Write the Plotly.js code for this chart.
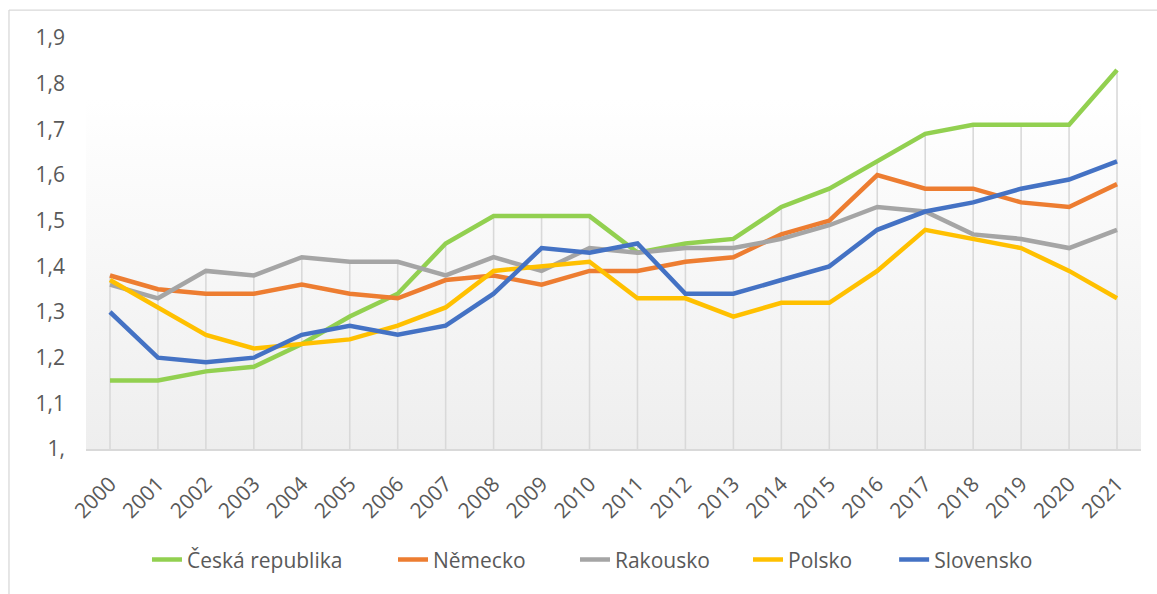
<!DOCTYPE html>
<html>
<head>
<meta charset="utf-8">
<script src="https://cdn.plot.ly/plotly-3.0.1.min.js"></script>
<style>html,body{margin:0;padding:0;background:#fff;}#chart{width:1157px;height:594px;}</style>
</head>
<body>
<div id="chart"></div>
<script>
const years = ["2000","2001","2002","2003","2004","2005","2006","2007","2008","2009","2010","2011","2012","2013","2014","2015","2016","2017","2018","2019","2020","2021"];
const cesko = [1.15,1.15,1.17,1.18,1.23,1.29,1.34,1.45,1.51,1.51,1.51,1.43,1.45,1.46,1.53,1.57,1.63,1.69,1.71,1.71,1.71,1.83];
const nemecko = [1.38,1.35,1.34,1.34,1.36,1.34,1.33,1.37,1.38,1.36,1.39,1.39,1.41,1.42,1.47,1.50,1.60,1.57,1.57,1.54,1.53,1.58];
const rakousko = [1.36,1.33,1.39,1.38,1.42,1.41,1.41,1.38,1.42,1.39,1.44,1.43,1.44,1.44,1.46,1.49,1.53,1.52,1.47,1.46,1.44,1.48];
const polsko = [1.37,1.31,1.25,1.22,1.23,1.24,1.27,1.31,1.39,1.40,1.41,1.33,1.33,1.29,1.32,1.32,1.39,1.48,1.46,1.44,1.39,1.33];
const slovensko = [1.30,1.20,1.19,1.20,1.25,1.27,1.25,1.27,1.34,1.44,1.43,1.45,1.34,1.34,1.37,1.40,1.48,1.52,1.54,1.57,1.59,1.63];
const seriesNames = ["Česká republika","Německo","Rakousko","Polsko","Slovensko"];
const yTickVals = [1.0,1.1,1.2,1.3,1.4,1.5,1.6,1.7,1.8,1.9];
const yTickText = ["1,","1,1","1,2","1,3","1,4","1,5","1,6","1,7","1,8","1,9"];

const allSeries = [cesko, nemecko, rakousko, polsko, slovensko];
const colors = ["#92D050","#ED7D31","#A5A5A5","#FFC000","#4472C4"];
const legendX = [0.0578, 0.291, 0.4635, 0.6275, 0.766];
const axisMin = 1.0;

// drop lines from highest value down to axis
const dx = [], dy = [];
years.forEach((yr, i) => {
  const m = Math.max(...allSeries.map(s => s[i]));
  dx.push(yr, yr, null);
  dy.push(axisMin, m, null);
});

const font = {family: "'Open Sans', sans-serif", size: 21, color: '#595959'};
const tickFont = {family: "'Open Sans', sans-serif", size: 21, color: '#595959'};

const traces = [{
  x: dx, y: dy, mode: 'lines', type: 'scatter',
  line: {color: '#d9d9d9', width: 1.6},
  showlegend: false, hoverinfo: 'skip'
}];

const layout = {
  width: 1157, height: 594,
  margin: {l: 86, r: 16, t: 38, b: 145},
  paper_bgcolor: '#ffffff',
  plot_bgcolor: 'rgba(0,0,0,0)',
  font: font,
  showlegend: true,
  xaxis: {
    type: 'category', range: [-0.5, 21.5],
    showgrid: false, zeroline: false,
    showline: true, linecolor: '#d9d9d9', linewidth: 1.5,
    ticks: '', tickangle: -45, tickfont: tickFont,
    ticklabelstandoff: 13, automargin: false, fixedrange: true
  },
  yaxis: {
    range: [1.0, 1.9], tickvals: yTickVals, ticktext: yTickText,
    showgrid: false, zeroline: false, showline: false, ticks: '',
    tickfont: font, ticklabelstandoff: 20, automargin: false, fixedrange: true
  },
  images: [],
  shapes: [
    {type: 'line', xref: 'paper', yref: 'paper', x0: -0.073, x1: 1.02, y0: 1.068, y1: 1.068, line: {color: '#d9d9d9', width: 1.3}},
    {type: 'line', xref: 'paper', yref: 'paper', x0: -0.073, x1: -0.073, y0: 1.068, y1: -0.36, line: {color: '#d9d9d9', width: 1.3}}
  ]
};

allSeries.forEach((s, k) => {
  const lg = k === 0 ? 'legend' : 'legend' + (k + 1);
  traces.push({
    x: years, y: s, name: seriesNames[k], type: 'scatter', mode: 'lines',
    line: {color: colors[k], width: 4.5}, legend: lg
  });
  layout[lg] = {
    orientation: 'h', x: legendX[k], xanchor: 'left', y: -0.27, yanchor: 'middle',
    font: font, bgcolor: 'rgba(0,0,0,0)'
  };
});

const gradSvg = "<svg xmlns='http://www.w3.org/2000/svg' width='100' height='100' preserveAspectRatio='none'><defs><linearGradient id='g' x1='0' y1='0' x2='0' y2='1'><stop offset='0' stop-color='#ffffff'/><stop offset='0.15' stop-color='#ffffff'/><stop offset='1' stop-color='#eeeeee'/></linearGradient></defs><rect width='100' height='100' fill='url(#g)'/></svg>";
layout.images.push({
  source: "data:image/svg+xml;charset=utf-8," + encodeURIComponent(gradSvg),
  xref: 'paper', yref: 'paper', x: 0, y: 1, sizex: 1, sizey: 1,
  xanchor: 'left', yanchor: 'top', sizing: 'stretch', layer: 'below'
});

Plotly.newPlot('chart', traces, layout, {staticPlot: true, displayModeBar: false});
</script>
</body>
</html>
